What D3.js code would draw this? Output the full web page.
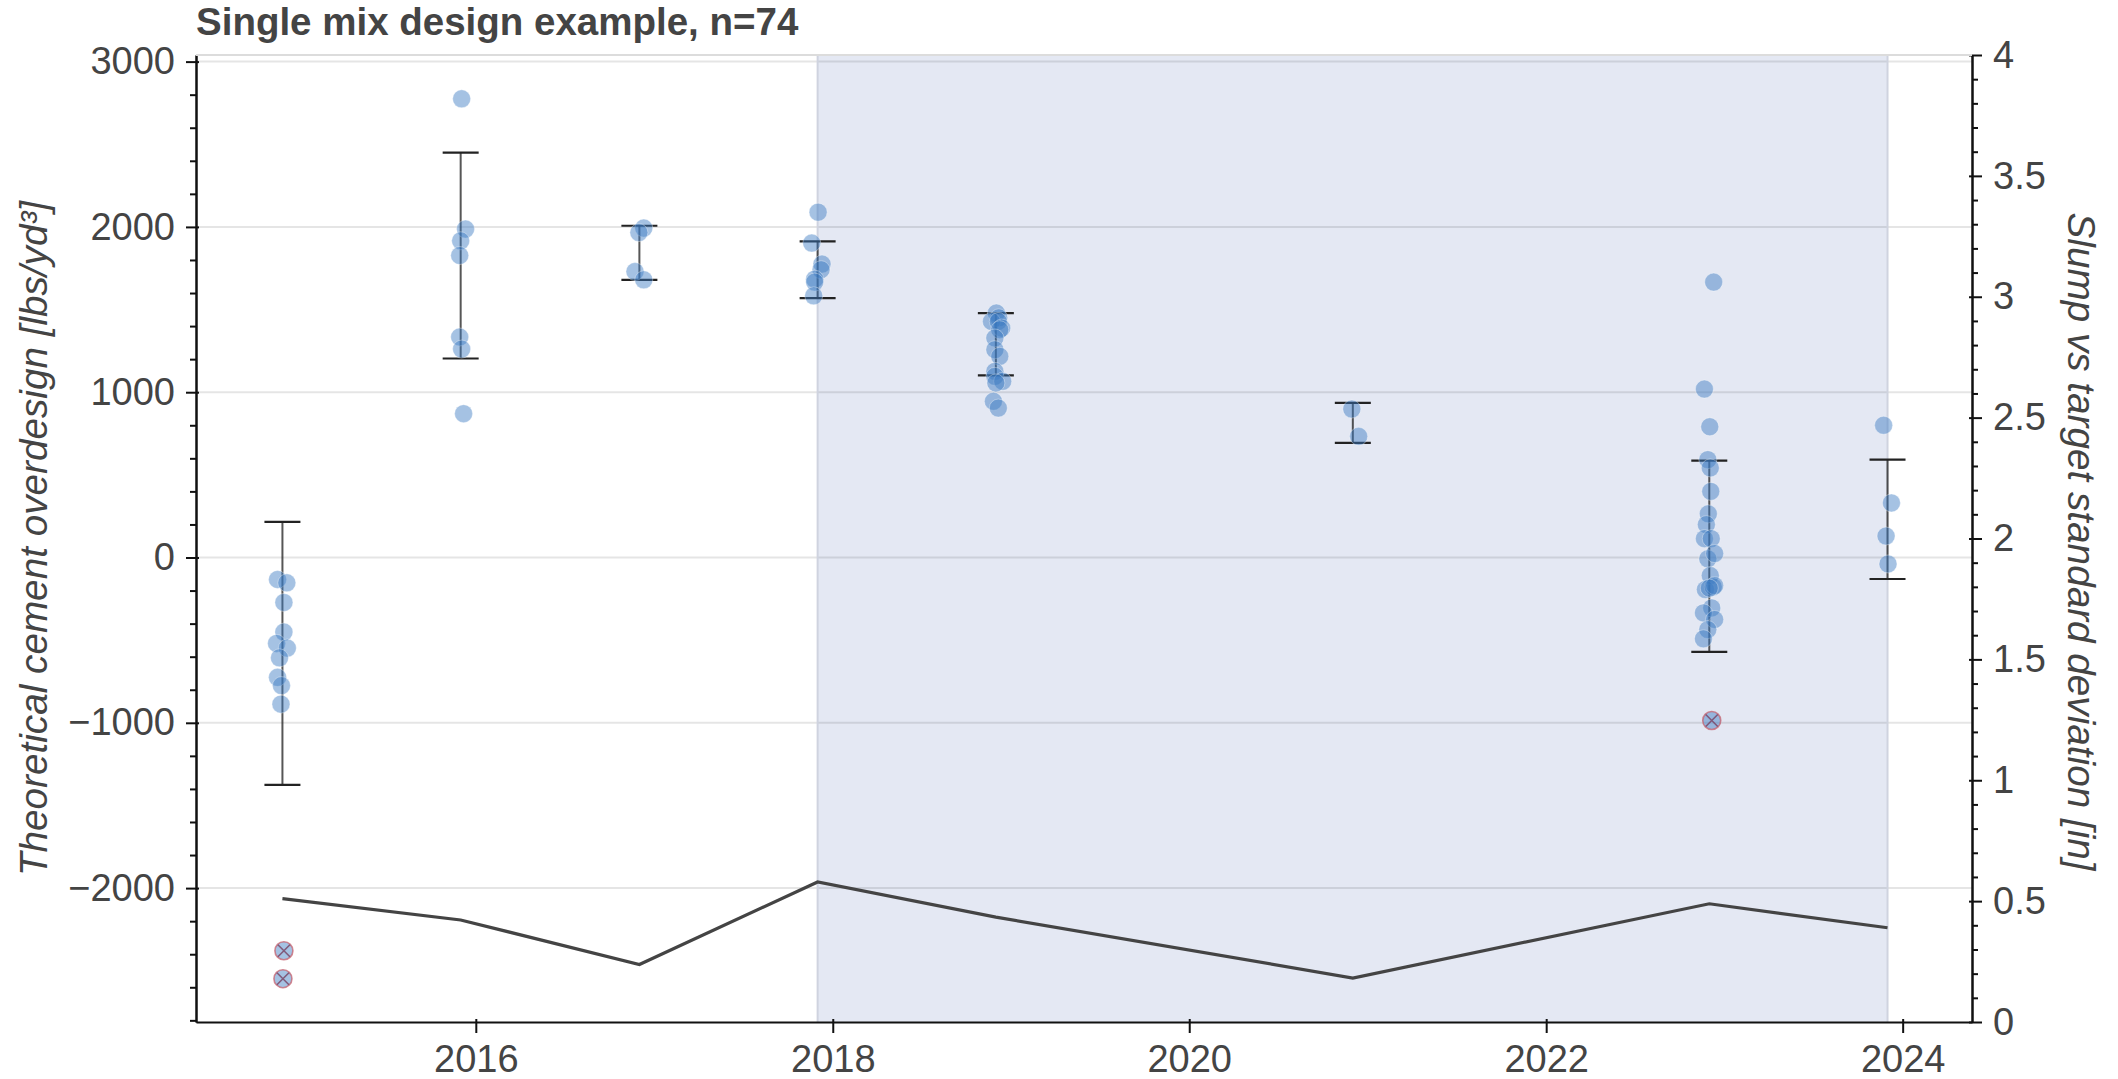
<!DOCTYPE html>
<html>
<head>
<meta charset="utf-8">
<script src="https://cdn.jsdelivr.net/npm/d3@7"></script>
<style>
    body { margin: 0; background: #fff; }
    svg { display: block; font-family: 'Liberation Sans', Arial, Helvetica, sans-serif; }
</style>
</head>
<body>
<div id="chart"></div>
<script>
// one date per yearly group, all taken in early December
const group_dates = ['2014-12-01', '2015-12-01', '2016-12-01', '2017-12-01', '2018-12-01', '2020-12-01', '2022-12-01', '2023-12-01']

// cement overdesign per sample [lbs/yd3]
const overdesign = [
    [-133, -153, -272, -451, -520, -548, -607, -725, -775, -887],
    [2775, 1987, 1916, 1827, 1334, 1261, 870],
    [1993, 1966, 1730, 1680],
    [2089, 1902, 1775, 1741, 1684, 1666, 1583],
    [1479, 1450, 1428, 1428, 1388, 1378, 1328, 1257, 1217, 1126, 1096, 1066, 1056, 945, 904],
    [898, 733],
    [1666, 1019, 791, 592, 542, 400, 264, 199, 114, 114, -8, 24, -109, -194, -178, -170, -185, -305, -335, -375, -436, -492],
    [800, 330, 130, -39]
]
// sample day offsets from the group date
const jitter_days = [
    [-10, 9, 3, 3, -12, 10, -6, -10, -2, -3],
    [2, 10, 0, -2, -2, 2, 6],
    [9, -1, -9, 9],
    [1, -12, 9, 7, -6, -6, -8],
    [1, 6, -9, 5, 12, 8, -2, -2, 8, -2, -2, 14, 0, -5, 5],
    [-2, 12],
    [9, -10, 1, -3, 2, 3, -2, -6, -10, 4, -3, 11, 2, -8, 8, 11, 0, 5, -12, 11, -3, -12],
    [-8, 8, -3, 1]
]

const err_low = [-1375, 1204, 1680, 1569, 1102, 693, -571, -130]
const err_high = [216, 2450, 2007, 1912, 1479, 935, 586, 592]

// slump vs target standard deviation [in]
const slump_sd = [0.51, 0.422, 0.238, 0.579, 0.434, 0.182, 0.489, 0.39]

const outlier_dates = ['2014-12-04', '2014-12-02', '2022-12-06']
const outlier_values = [-2379, -2548, -986]

const span_dates = ['2017-12-01', '2023-12-01']

const y_ticks = [-2000, -1000, 0, 1000, 2000, 3000]
const slump_ticks = [0, 0.5, 1, 1.5, 2, 2.5, 3, 3.5, 4]
const year_ticks = [2016, 2018, 2020, 2022, 2024]

const title = 'Single mix design example, n=74'
const y_label = 'Theoretical cement overdesign [lbs/yd³]'
const y2_label = 'Slump vs target standard deviation [in]'

const W = 2118, H = 1079
const p_left = 196, p_right = 1972, p_top = 55, p_bottom = 1022
const text_col = '#444'
const point_col = '#3a7bc2'

const parse = d3.utcParse('%Y-%m-%d')

const svg = d3.select('#chart').append('svg').attr('width', W).attr('height', H)

const x = d3.scaleUtc()
    .domain([new Date(Date.UTC(2014, 5, 7)), new Date(Date.UTC(2024, 4, 22))])
    .range([p_left, p_right])
const y = d3.scaleLinear().domain([-2810, 3040]).range([p_bottom, p_top])
const y2 = d3.scaleLinear().domain([0, 4]).range([p_bottom, p_top])

// shaded period
svg.append('rect')
    .attr('x', x(parse(span_dates[0])))
    .attr('y', p_top)
    .attr('width', x(parse(span_dates[1])) - x(parse(span_dates[0])))
    .attr('height', p_bottom - p_top)
    .attr('fill', '#e4e8f3')

// horizontal grid
svg.append('g').selectAll('line')
    .data(y_ticks)
    .enter()
    .append('line')
    .attr('x1', p_left).attr('x2', p_right)
    .attr('y1', d => y(d)).attr('y2', d => y(d))
    .attr('stroke', 'rgba(0,0,0,0.1)')
    .attr('stroke-width', 2)

svg.append('g').selectAll('line')
    .data(span_dates)
    .enter()
    .append('line')
    .attr('x1', d => x(parse(d))).attr('x2', d => x(parse(d)))
    .attr('y1', p_top).attr('y2', p_bottom)
    .attr('stroke', '#cfd3df')
    .attr('stroke-width', 2)

// slump line on the right axis
const line = d3.line()
    .x((d, i) => x(parse(group_dates[i])))
    .y(d => y2(d))

svg.append('path')
    .datum(slump_sd)
    .attr('d', line)
    .attr('fill', 'none')
    .attr('stroke', '#444')
    .attr('stroke-width', 3.2)

// error bars
const bars = svg.append('g')
group_dates.forEach((g, i) => {
    const cx = x(parse(g))
    bars.append('line')
        .attr('x1', cx).attr('x2', cx)
        .attr('y1', y(err_low[i])).attr('y2', y(err_high[i]))
        .attr('stroke', 'rgba(30,30,30,0.75)')
        .attr('stroke-width', 2)
    ;[err_low[i], err_high[i]].forEach(v => {
        bars.append('line')
            .attr('x1', cx - 18).attr('x2', cx + 18)
            .attr('y1', y(v)).attr('y2', y(v))
            .attr('stroke', '#222')
            .attr('stroke-width', 2.2)
    })
})

// samples
const points = []
overdesign.forEach((vals, i) => {
    vals.forEach((v, k) => {
        points.push({ date: d3.utcDay.offset(parse(group_dates[i]), jitter_days[i][k]), value: v })
    })
})

svg.append('g').selectAll('circle')
    .data(points)
    .enter()
    .append('circle')
    .attr('cx', d => x(d.date))
    .attr('cy', d => y(d.value))
    .attr('r', 9)
    .attr('fill', point_col)
    .attr('fill-opacity', 0.46)
    .attr('stroke', '#fff')
    .attr('stroke-opacity', 0.35)
    .attr('stroke-width', 1)

// excluded samples
const outs = svg.append('g')
outlier_dates.forEach((d, i) => {
    const cx = x(parse(d)), cy = y(outlier_values[i])
    outs.append('circle')
        .attr('cx', cx).attr('cy', cy).attr('r', 9)
        .attr('fill', point_col).attr('fill-opacity', 0.46)
        .attr('stroke', '#c4606e').attr('stroke-opacity', 0.75).attr('stroke-width', 1.6)
    const s = 6
    outs.append('path')
        .attr('d', `M${cx - s},${cy - s}L${cx + s},${cy + s}M${cx - s},${cy + s}L${cx + s},${cy - s}`)
        .attr('stroke', '#7a4868').attr('stroke-opacity', 0.85).attr('stroke-width', 1.6)
})

// axes
const style_axis = (g) => {
    g.select('.domain').attr('stroke', '#111').attr('stroke-width', 2)
    g.selectAll('.tick line').attr('stroke', '#111').attr('stroke-width', 2)
    g.selectAll('.tick text').attr('fill', text_col).style('font-size', '38px')
}

const minor_left = d3.range(-2800, 3001, 200).filter(v => v % 1000 != 0)
svg.append('g')
    .attr('transform', `translate(${p_left},0)`)
    .call(d3.axisLeft(y).tickValues(minor_left).tickSize(6).tickSizeOuter(0).tickFormat(''))
    .call(style_axis)
svg.append('g')
    .attr('transform', `translate(${p_left},0)`)
    .call(d3.axisLeft(y).tickValues(y_ticks).tickSize(10).tickSizeOuter(0).tickPadding(11).tickFormat(d3.format('d')))
    .call(style_axis)
    .call(g => g.selectAll('.tick line').attr('x1', 3))

const minor_right = d3.range(0, 40.5, 1).map(v => v / 10).filter(v => Math.round(v * 10) % 5 != 0)
svg.append('g')
    .attr('transform', `translate(${p_right},0)`)
    .call(d3.axisRight(y2).tickValues(minor_right).tickSize(6).tickSizeOuter(0).tickFormat(''))
    .call(style_axis)
svg.append('g')
    .attr('transform', `translate(${p_right},0)`)
    .call(d3.axisRight(y2).tickValues(slump_ticks).tickSize(10).tickSizeOuter(0).tickPadding(11).tickFormat(d => d))
    .call(style_axis)
    .call(g => g.selectAll('.tick line').attr('x1', -3))

svg.append('g')
    .attr('transform', `translate(0,${p_bottom})`)
    .call(d3.axisBottom(x).tickValues(year_ticks.map(yr => new Date(Date.UTC(yr, 0, 1)))).tickSize(11).tickSizeOuter(0).tickPadding(12).tickFormat(d3.utcFormat('%Y')))
    .call(style_axis)
    .call(g => g.selectAll('.tick line').attr('y1', -3))

// top frame
svg.append('line')
    .attr('x1', p_left).attr('x2', p_right)
    .attr('y1', p_top).attr('y2', p_top)
    .attr('stroke', '#dcdcdc')
    .attr('stroke-width', 2)

// labels
svg.append('text')
    .attr('x', p_left).attr('y', 35)
    .attr('fill', text_col)
    .style('font-size', '38.5px').style('font-weight', 'bold')
    .text(title)

svg.append('text')
    .attr('transform', `translate(47,${(p_top + p_bottom) / 2}) rotate(-90)`)
    .attr('text-anchor', 'middle')
    .attr('fill', text_col)
    .style('font-size', '38.7px').style('font-style', 'italic')
    .text(y_label)

svg.append('text')
    .attr('transform', `translate(2068,${(p_top + p_bottom) / 2 + 3}) rotate(90)`)
    .attr('text-anchor', 'middle')
    .attr('fill', text_col)
    .style('font-size', '38.7px').style('font-style', 'italic')
    .text(y2_label)
</script>
</body>
</html>
